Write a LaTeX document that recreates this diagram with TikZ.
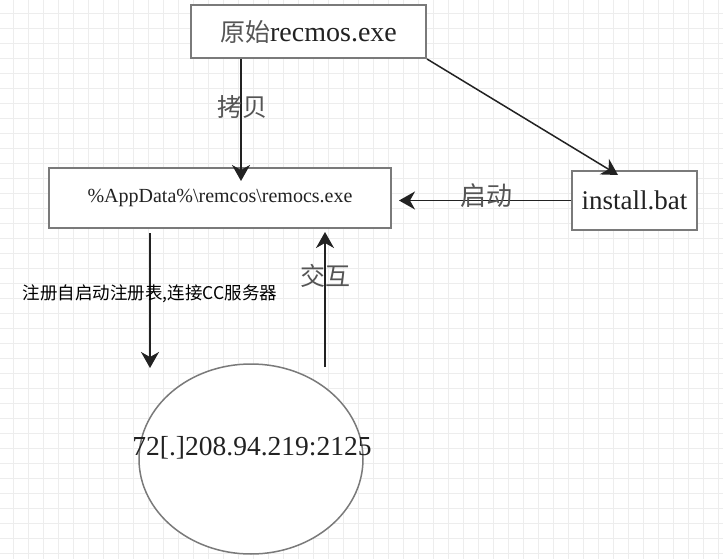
\documentclass[tikz,border=0pt]{standalone}
\usepackage{fontspec}
\setmainfont{Liberation Serif}
\newfontfamily\cjk{Noto Sans CJK SC}
\usetikzlibrary{arrows.meta,shapes.geometric,calc}
\definecolor{gridc}{HTML}{EDEDED}
\definecolor{boxc}{HTML}{7A7A7A}
\definecolor{arrc}{HTML}{222222}
\definecolor{lblc}{HTML}{555555}
\tikzset{
  gridline/.style={draw=gridc, line width=1.3pt},
  boxnode/.style={draw=boxc, line width=2pt, fill=white, inner sep=0pt, text=arrc},
  arr/.style={draw=arrc, line width=1.5pt, -{Stealth[length=16pt,width=18pt,inset=5pt]}},
  lbl/.style={text=lblc, inner sep=0pt, font=\cjk\fontsize{25}{25}\selectfont},
}
\begin{document}
\begin{tikzpicture}[x=1pt,y=-1pt]
\fill[white] (0,0) rectangle (723,559);
\useasboundingbox (0,0) rectangle (723,559);
\foreach \i in {0,...,47} \draw[gridline] (13.5+15*\i,0) -- ++(0,559);
\foreach \j in {0,...,37} \draw[gridline] (0,13.5+15*\j) -- ++(723,0);

\node[boxnode, minimum width=235pt, minimum height=53pt] (top) at (308.5,31.5)
  {{\cjk\color{lblc}\fontsize{25}{25}\selectfont 原始}\fontsize{28}{28}\selectfont recmos.exe};
\node[boxnode, minimum width=342pt, minimum height=60pt] (mid) at (220,198)
  {\fontsize{20}{20}\selectfont \%AppData\%\textbackslash remcos\textbackslash remocs.exe};
\node[boxnode, minimum width=125pt, minimum height=59pt] (inst) at (634.5,200.5)
  {\fontsize{27}{27}\selectfont install.bat};
\node[ellipse, draw=boxc, line width=1.5pt, fill=white, minimum width=224pt, minimum height=190pt] (cc) at (251,459) {};
\node[text=arrc, inner sep=0pt, font=\fontsize{27.5}{27.5}\selectfont] (ip) at (252,448) {72[.]208.94.219:2125};

\coordinate (a1) at (241,181);
\coordinate (a2) at (618,175);
\coordinate (a3) at (399,200.5);
\coordinate (d1) at (150,368);
\coordinate (u0) at (325,367);

\draw[arr] (top.south -| a1) -- (a1);
\draw[arr] (top.south east) -- (a2);
\draw[arr] (inst.west) -- (a3);
\draw[arr] ($(mid.south -| d1)+(0,4)$) -- (d1);
\draw[arr] (u0) -- ($(mid.south -| u0)+(0,3)$);

\node[lbl] (l1) at (242,107) {拷贝};
\node[lbl, font=\cjk\fontsize{26}{26}\selectfont] (l2) at (486,196) {启动};
\node[lbl] (l3) at (325,276) {交互};
\node[text=black, inner sep=0pt, font=\cjk\fontsize{17.5}{17.5}\selectfont] (l4) at (150,294) {注册自启动注册表,连接CC服务器};
\end{tikzpicture}
\end{document}
